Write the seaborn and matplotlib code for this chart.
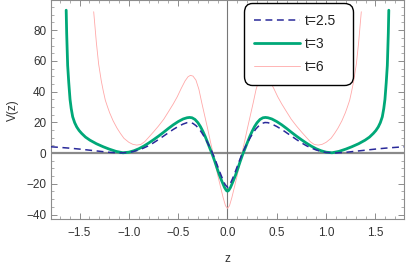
import numpy as np
import matplotlib
matplotlib.use("Agg")
import matplotlib.pyplot as plt
import seaborn as sns

# values (V(z) for three values of t)
z_25 = [-1.79, -1.7, -1.6, -1.5, -1.4, -1.3, -1.2, -1.1, -1.0, -0.95, -0.9, -0.85,
        -0.8, -0.75, -0.7, -0.65, -0.6, -0.55, -0.5, -0.45, -0.41, -0.38, -0.35,
        -0.32, -0.29, -0.26, -0.23, -0.2, -0.17, -0.14, -0.11, -0.08, -0.05, -0.025, 0.0,
        0.025, 0.05, 0.08, 0.11, 0.14, 0.17, 0.2, 0.23, 0.26, 0.29, 0.32, 0.35, 0.38,
        0.41, 0.45, 0.5, 0.55, 0.6, 0.65, 0.7, 0.75, 0.8, 0.85, 0.9, 0.95, 1.0,
        1.1, 1.2, 1.3, 1.4, 1.5, 1.6, 1.7, 1.79]
v_25 = [4.1, 3.7, 3.2, 2.6, 1.9, 1.2, 0.5, 0.1, 0.4, 1.1, 2.0, 3.3,
        4.8, 6.7, 8.8, 11.0, 13.2, 15.4, 17.3, 18.9, 19.8, 19.9, 19.3,
        17.9, 15.9, 13.2, 10.0, 6.5, 2.6, -1.8, -6.8, -12.0, -16.8, -20.4, -22.3,
        -20.4, -16.8, -12.0, -6.8, -1.8, 2.6, 6.5, 10.0, 13.2, 15.9, 17.9, 19.3, 19.9,
        19.8, 18.9, 17.3, 15.4, 13.2, 11.0, 8.8, 6.7, 4.8, 3.3, 2.0, 1.1, 0.4,
        0.1, 0.5, 1.2, 1.9, 2.6, 3.2, 3.7, 4.1]

z_3 = [-1.636, -1.631, -1.621, -1.61, -1.597, -1.585, -1.57, -1.55, -1.529, -1.505,
       -1.479, -1.44, -1.395, -1.33, -1.26, -1.2, -1.13, -1.06, -1.0, -0.95, -0.9,
       -0.85, -0.8, -0.75, -0.7, -0.647, -0.6, -0.55, -0.5, -0.45, -0.41, -0.385,
       -0.36, -0.33, -0.3, -0.274, -0.25, -0.225, -0.2, -0.178, -0.156, -0.13,
       -0.105, -0.08, -0.054, -0.03, -0.012, 0.0,
       0.012, 0.03, 0.054, 0.08, 0.105, 0.13, 0.156, 0.178, 0.2, 0.225, 0.25, 0.274,
       0.3, 0.33, 0.36, 0.385, 0.41, 0.45, 0.5, 0.55, 0.6, 0.647, 0.7, 0.75, 0.8,
       0.85, 0.9, 0.95, 1.0, 1.06, 1.13, 1.2, 1.26, 1.33, 1.395, 1.44, 1.479, 1.505,
       1.529, 1.55, 1.57, 1.585, 1.597, 1.61, 1.621, 1.631, 1.636]
v_3 = [93, 78, 57, 46, 35, 29, 23.6, 19.8, 17.0, 14.7,
       12.8, 10.4, 8.4, 6.1, 4.1, 2.6, 1.1, 0.2, 0.6, 1.5, 2.8,
       4.5, 6.5, 8.7, 11.0, 13.6, 16.0, 18.4, 20.5, 22.2, 23.0, 23.2,
       23.0, 21.9, 19.8, 17.2, 14.2, 10.6, 6.6, 3.0, -0.5, -5.2,
       -10.0, -14.6, -18.8, -22.4, -24.3, -24.8,
       -24.3, -22.4, -18.8, -14.6, -10.0, -5.2, -0.5, 3.0, 6.6, 10.6, 14.2, 17.2,
       19.8, 21.9, 23.0, 23.2, 23.0, 22.2, 20.5, 18.4, 16.0, 13.6, 11.0, 8.7, 6.5,
       4.5, 2.8, 1.5, 0.6, 0.2, 1.1, 2.6, 4.1, 6.1, 8.4, 10.4, 12.8, 14.7,
       17.0, 19.8, 23.6, 29, 35, 46, 57, 78, 93]

z_6 = [-1.357, -1.33, -1.307, -1.28, -1.26, -1.239, -1.215, -1.195, -1.16, -1.12,
       -1.086, -1.05, -1.0, -0.96, -0.92, -0.88, -0.84, -0.8, -0.75, -0.7, -0.647,
       -0.6, -0.55, -0.51, -0.47, -0.43, -0.4, -0.376, -0.35, -0.32, -0.29, -0.26,
       -0.23, -0.2, -0.173, -0.145, -0.122, -0.095, -0.071, -0.045, -0.02, 0.0,
       0.02, 0.045, 0.071, 0.095, 0.122, 0.145, 0.173, 0.2, 0.23, 0.26, 0.29, 0.32,
       0.35, 0.376, 0.4, 0.43, 0.47, 0.51, 0.55, 0.6, 0.647, 0.7, 0.75, 0.8, 0.84,
       0.88, 0.92, 0.96, 1.0, 1.05, 1.086, 1.12, 1.16, 1.195, 1.215, 1.239, 1.26,
       1.28, 1.307, 1.33, 1.357]
v_6 = [92, 72, 58, 47, 40.5, 34.4, 29.8, 26.2, 21.0, 16.2,
       12.8, 9.6, 7.0, 5.7, 5.2, 5.6, 7.4, 10.2, 13.8, 17.6, 22.0,
       26.8, 32.0, 36.6, 42.0, 47.0, 49.7, 50.6, 50.1, 47.5, 41.5, 32.5,
       24.0, 15.5, 7.4, -0.5, -7.8, -15.5, -21.9, -28.8, -34.3, -36.0,
       -34.3, -28.8, -21.9, -15.5, -7.8, -0.5, 7.4, 15.5, 24.0, 32.5, 41.5, 47.5,
       50.1, 50.6, 49.7, 47.0, 42.0, 36.6, 32.0, 26.8, 22.0, 17.6, 13.8, 10.2, 7.4,
       5.6, 5.2, 5.7, 7.0, 9.6, 12.8, 16.2, 21.0, 26.2, 29.8, 34.4, 40.5,
       47, 58, 72, 92]

labels = ["t=2.5", "t=3", "t=6"]
x_ticks = [-1.5, -1.0, -0.5, 0.0, 0.5, 1.0, 1.5]
y_ticks = [-40, -20, 0, 20, 40, 60, 80]

sns.set_theme(style="white")
plt.rcParams["font.family"] = ["Liberation Sans", "DejaVu Sans"]

fig = plt.figure(figsize=(4.07, 2.65), dpi=100)
ax = fig.add_axes([0.1253, 0.1736, 0.8673, 0.8250])

# axes lines through the origin
ax.axhline(0, color="#8a8a8a", lw=1.6, zorder=1)
ax.axvline(0, color="#777777", lw=0.8, zorder=1)

sns.lineplot(x=z_6, y=v_6, ax=ax, color="#ffa8a8", lw=0.6, label=labels[2],
             sort=False, estimator=None, zorder=2)
sns.lineplot(x=z_3, y=v_3, ax=ax, color="#00a878", lw=2.0, label=labels[1],
             sort=False, estimator=None, zorder=3)
sns.lineplot(x=z_25, y=v_25, ax=ax, color="#2a2a9a", lw=1.1, label=labels[0],
             sort=False, estimator=None, zorder=4)
ax.lines[-1].set_dashes((4.5, 3))

ax.set_xlim(-1.79, 1.79)
ax.set_ylim(-42.9, 99.4)
ax.set_xticks(x_ticks)
ax.set_yticks(y_ticks)
ax.set_xticklabels([f"{v:.1f}".replace("-", "\u2212") for v in x_ticks])
ax.set_xticks(np.arange(-1.7, 1.75, 0.1), minor=True)
ax.set_yticks(np.arange(-40, 96, 5), minor=True)
ax.tick_params(which="both", direction="in", bottom=True, left=True, top=True,
               right=True, color="#8c8c8c", labelcolor="#333333", labelsize=8.5)
ax.tick_params(which="major", length=4, width=0.7)
ax.tick_params(which="minor", length=2, width=0.5)
ax.tick_params(axis="x", pad=6)
ax.tick_params(axis="y", pad=3.5)
for s in ax.spines.values():
    s.set_color("#8c8c8c")
    s.set_linewidth(0.8)

ax.set_xlabel("z", fontsize=8.5, color="#333333", labelpad=10)
ax.set_ylabel("V(z)", fontsize=8.5, color="#333333", labelpad=5)

h, l = ax.get_legend_handles_labels()
order = [l.index(x) for x in labels]
leg = ax.legend([h[i] for i in order], [l[i] for i in order],
                loc="upper left", bbox_to_anchor=(0.547, 0.607, 0.308, 0.379),
                mode="expand", fontsize=10, handlelength=3.3, handletextpad=0.35,
                labelspacing=0.66, borderpad=0.75, borderaxespad=0,
                frameon=True, fancybox=True, framealpha=1, edgecolor="black")
leg.get_frame().set_linewidth(1.0)
leg.get_frame().set_boxstyle("round", pad=0, rounding_size=0.6)
for t in leg.get_texts():
    t.set_color("#222222")

fig.savefig("out.png", dpi=100)
